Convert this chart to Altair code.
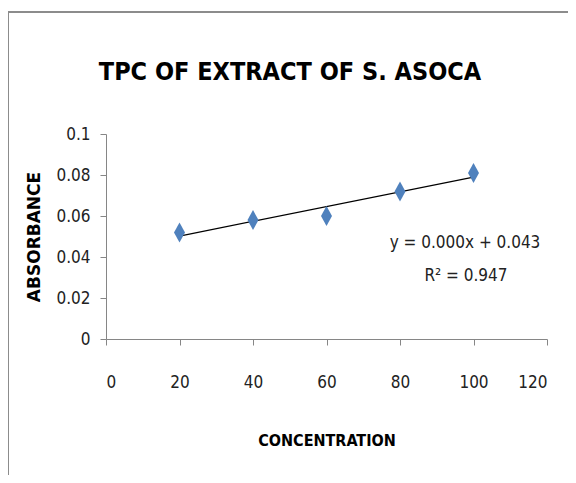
import altair as alt
import pandas as pd

concentration = [20, 40, 60, 80, 100]
absorbance = [0.052, 0.058, 0.060, 0.072, 0.081]
x_ticks = [0, 20, 40, 60, 80, 100, 120]
y_ticks = [0, 0.02, 0.04, 0.06, 0.08, 0.1]
title_text = "TPC OF EXTRACT OF S. ASOCA"
eq_text = "y = 0.000x + 0.043"
r2_text = "R² = 0.947"

df = pd.DataFrame({"conc": concentration, "abs": absorbance})

NARROW = "DejaVu Sans Condensed, Liberation Sans, sans-serif"

xenc = alt.X("conc:Q", scale=alt.Scale(domain=[0, 120], nice=False),
             axis=alt.Axis(values=x_ticks, title="CONCENTRATION", labelPadding=29,
                           titlePadding=42, titleFont=NARROW, titleFontSize=16,
                           titleFontWeight="bold"))
yenc = alt.Y("abs:Q", scale=alt.Scale(domain=[0, 0.1], nice=False),
             axis=alt.Axis(values=y_ticks, format="~g", title="ABSORBANCE",
                           labelPadding=10, titlePadding=12,
                           titleFont="DejaVu Sans, sans-serif", titleFontSize=17,
                           titleFontWeight="bold"))

base = alt.Chart(df)

points = base.mark_point(
    shape="M0,-1L0.55,0L0,1L-0.55,0Z", filled=True, size=400,
    color="#4F81BD", opacity=1
).encode(x=xenc, y=yenc)

trend = base.transform_regression("conc", "abs", extent=[20, 100]).mark_line(
    color="black", strokeWidth=1.2
).encode(x="conc:Q", y="abs:Q")

title = alt.Chart(pd.DataFrame({"t": [title_text]})).mark_text(
    font=NARROW, fontSize=25, fontWeight="bold", color="black", baseline="middle"
).encode(text="t:N", x=alt.value(184), y=alt.value(-62))

eq = alt.Chart(pd.DataFrame({"t": [eq_text]})).mark_text(
    font=NARROW, fontSize=17, color="#222222", baseline="middle"
).encode(text="t:N", x=alt.value(359), y=alt.value(109))

r2 = alt.Chart(pd.DataFrame({"t": [r2_text]})).mark_text(
    font=NARROW, fontSize=17, color="#222222", baseline="middle"
).encode(text="t:N", x=alt.value(360), y=alt.value(142))

frame_left = alt.Chart(pd.DataFrame({"a": [0]})).mark_rule(
    color="#8c8c8c", strokeWidth=2
).encode(x=alt.value(-98), y=alt.value(-122), y2=alt.value(345))

frame_top = alt.Chart(pd.DataFrame({"a": [0]})).mark_rule(
    color="#8c8c8c", strokeWidth=2
).encode(x=alt.value(-99), x2=alt.value(480), y=alt.value(-122))

chart = alt.layer(frame_left, frame_top, trend, points, title, eq, r2).properties(
    width=441, height=205,
    autosize=alt.AutoSizeParams(type="none"),
    padding={"left": 98, "top": 126, "right": 21, "bottom": 136},
).configure_view(stroke=None).configure_axis(
    grid=False, domainColor="#868686", tickColor="#868686", tickSize=6,
    labelFont=NARROW, labelFontSize=17, labelColor="#222222",
    titleColor="black"
)

chart.save("out.html", embed_options={"renderer": "svg", "actions": False})
